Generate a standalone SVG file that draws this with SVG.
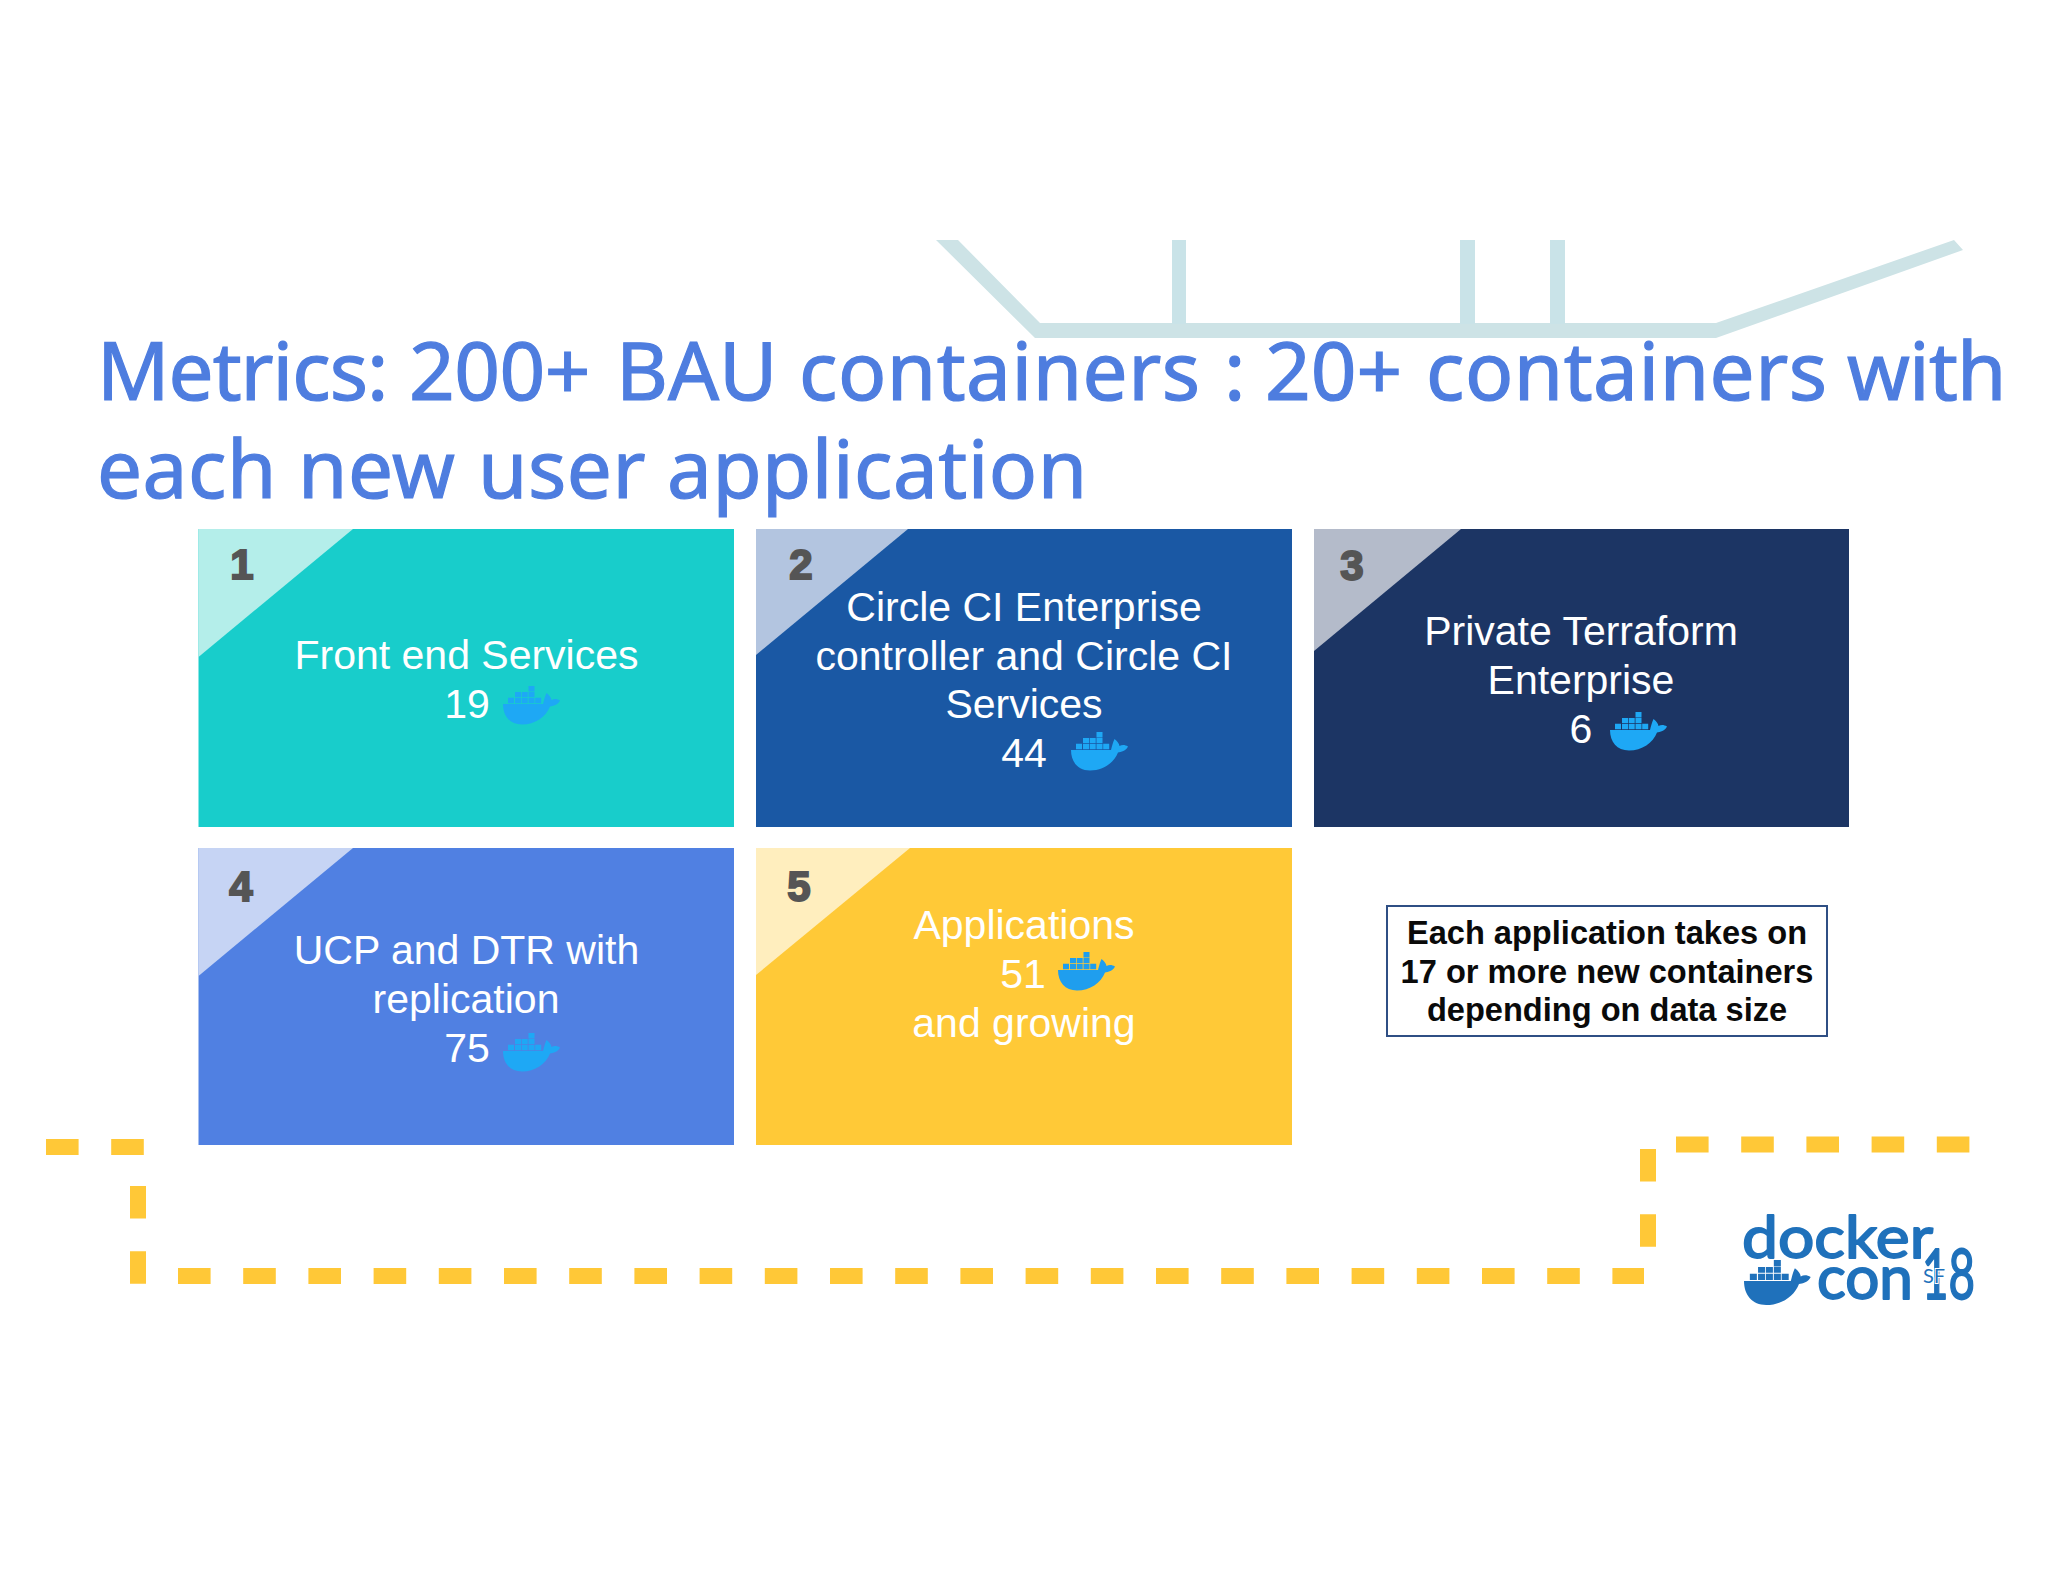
<svg xmlns="http://www.w3.org/2000/svg" width="2048" height="1582" viewBox="0 0 2048 1582">
<style>
.title{font-family:"Noto Sans","Open Sans",sans-serif;font-size:80px;fill:#4e7ddf;stroke:#4e7ddf;stroke-width:1.2px}
.t{font-family:"Liberation Sans",Arial,sans-serif;font-size:41px;fill:#fff;text-anchor:middle}
.n{font-family:"Liberation Sans",Arial,sans-serif;font-weight:700;font-size:42px;fill:#555;stroke:#555;stroke-width:2px;text-anchor:middle}
.note{font-family:"Liberation Sans",Arial,sans-serif;font-weight:700;font-size:32.600px;fill:#0a0a0a;text-anchor:middle}
.dash{fill:none;stroke:#ffc837;stroke-width:16;stroke-dasharray:32.6 32.6}
.logo{font-family:Lato,"Open Sans",sans-serif;fill:#1f71bb;stroke:#1f71bb;stroke-width:1.800px;stroke-linejoin:round}
</style>
<defs>
<clipPath id="tc"><rect x="0" y="200" width="2002" height="400"/></clipPath>
<g id="whale">
<path d="M0 18H40C41 14 42 10 43.500 7C46 9 48 11 48.500 14C51 12.500 54 12.500 57 14.500C55 19 50 20 47 20.500C43 31 32 38.500 19 38.500C7 38.500 0 30 0 18Z"/>
<path d="M25.500 0h6v5.500h-6zM12 6h6v5h-6zM18.700 6h6v5h-6zM25.500 6h6v5h-6zM5 11.700h6v5.500h-6zM12 11.700h6v5.500h-6zM18.700 11.700h6v5.500h-6zM25.500 11.700h6v5.500h-6zM32.200 11.700h6v5.500h-6z"/>
</g>
</defs>
<rect width="2048" height="1582" fill="#fff"/>
<g id="rail" fill="#cde3e6">
<polygon points="936,240 958,240 1040,323 1716,323 1954,240 1963,250 1716,338 1035,338"/>
<rect x="1172" y="240" width="14" height="84" fill="#c9e3e8"/>
<rect x="1460" y="240" width="15" height="84" fill="#c9e3e8"/>
<rect x="1550" y="240" width="15" height="84" fill="#c9e3e8"/>
</g>
<g id="title" clip-path="url(#tc)">
<text class="title" y="400"><tspan x="97" letter-spacing="-1">Metrics:</tspan><tspan x="409" letter-spacing="-.5">200+</tspan><tspan x="616">BAU</tspan><tspan x="799" letter-spacing=".5">containers</tspan><tspan x="1224">:</tspan><tspan x="1265">20+</tspan><tspan x="1426" letter-spacing=".5">containers</tspan><tspan x="1847" letter-spacing="-.8">with</tspan></text>
<text class="title" y="498"><tspan x="97" letter-spacing=".5">each</tspan><tspan x="298" letter-spacing=".5">new</tspan><tspan x="478" letter-spacing=".5">user</tspan><tspan x="667" letter-spacing=".5">application</tspan></text>
</g>
<g id="connectors">
<path class="dash" d="M46 1147H146"/>
<path class="dash" d="M138 1186V1284"/>
<path class="dash" d="M178 1276H1644"/>
<path class="dash" d="M1648 1149V1247"/>
<path class="dash" d="M1676 1144.500H1970"/>
</g>
<g id="node-1">
<rect x="198.500" y="529" width="535.500" height="298" fill="#18cdcb"/>
<polygon points="198.500,529 353,529 198.500,657" fill="#b4eeea"/>
<text class="n" x="242" y="579">1</text>
<text class="t" x="466.500" y="669">Front end Services</text>
<text class="t" x="467" y="718">19</text>
<use href="#whale" x="503" y="686" fill="#1ea8f5"/>
</g>
<g id="node-2">
<rect x="756" y="529" width="536" height="298" fill="#1a58a4"/>
<polygon points="756,529 908,529 756,655" fill="#b3c5e0"/>
<text class="n" x="801" y="579">2</text>
<text class="t" x="1024" y="621">Circle CI Enterprise</text>
<text class="t" x="1024" y="670">controller and Circle CI</text>
<text class="t" x="1024" y="718">Services</text>
<text class="t" x="1024" y="767">44</text>
<use href="#whale" x="1071" y="732" fill="#1ea8f5"/>
</g>
<g id="node-3">
<rect x="1314" y="529" width="535" height="298" fill="#1c3564"/>
<polygon points="1314,529 1461,529 1314,651" fill="#b4bbca"/>
<text class="n" x="1352" y="580">3</text>
<text class="t" x="1581" y="645">Private Terraform</text>
<text class="t" x="1581" y="694">Enterprise</text>
<text class="t" x="1581" y="743">6</text>
<use href="#whale" x="1610" y="712" fill="#1ea8f5"/>
</g>
<g id="node-4">
<rect x="198.500" y="848" width="535.500" height="297" fill="#5080e2"/>
<polygon points="198.500,848 353,848 198.500,976" fill="#c6d4f4"/>
<text class="n" x="241" y="901">4</text>
<text class="t" x="466.500" y="964">UCP and DTR with</text>
<text class="t" x="466" y="1013">replication</text>
<text class="t" x="467" y="1062">75</text>
<use href="#whale" x="503" y="1033" fill="#1ea8f5"/>
</g>
<g id="node-5">
<rect x="756" y="848" width="536" height="297" fill="#ffc937"/>
<polygon points="756,848 910,848 756,975" fill="#ffeebe"/>
<text class="n" x="799" y="901">5</text>
<text class="t" x="1024" y="939">Applications</text>
<text class="t" x="1023" y="988">51</text>
<text class="t" x="1024" y="1037">and growing</text>
<use href="#whale" x="1058" y="952" fill="#1f9eee"/>
</g>
<g id="note">
<rect x="1387" y="906" width="440" height="130" fill="#fff" stroke="#2f4f84" stroke-width="2"/>
<text class="note" x="1607" y="944">Each application takes on</text>
<text class="note" x="1607" y="983">17 or more new containers</text>
<text class="note" x="1607" y="1021">depending on data size</text>
</g>
<g id="logo">
<text class="logo" x="1742" y="1258" font-size="58" textLength="191" lengthAdjust="spacingAndGlyphs">docker</text>
<text class="logo" x="1817" y="1299" font-size="60" textLength="96" lengthAdjust="spacingAndGlyphs">con</text>
<text class="logo" x="1922" y="1299" font-size="70" textLength="53" lengthAdjust="spacingAndGlyphs">18</text>
<text x="1923" y="1283" font-size="20" style="font-family:Lato,'Open Sans',sans-serif;fill:#1f71bb;stroke:#fff;stroke-width:2px;paint-order:stroke">SF</text>
<use href="#whale" transform="translate(1744 1260) scale(1.17)" fill="#1f71bb"/>
</g>
</svg>
